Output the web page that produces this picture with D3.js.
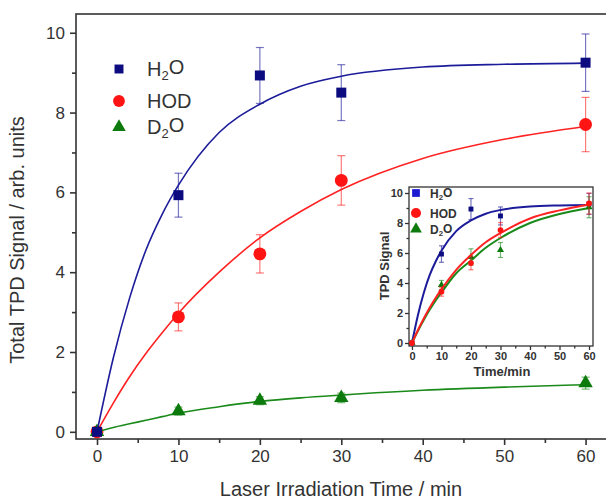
<!DOCTYPE html>
<html>
<head>
<meta charset="utf-8">
<script src="https://cdn.jsdelivr.net/npm/d3@7"></script>
<style>
  body { margin: 0; background: #fff; }
  svg { display: block; font-family: "Liberation Sans", Arial, sans-serif; }
</style>
</head>
<body>
<div id="chart"></div>
<script>
// ===============================
// DATA
// ===============================
const times = [0, 10, 20, 30, 60];

// main panel: measured points
const h2oMain = [0, 5.93, 8.93, 8.5, 9.25];
const h2oMainErr = [0, 0.55, 0.7, 0.7, 0.72];
const hodMain = [0, 2.88, 4.46, 6.3, 7.7];
const hodMainErr = [0, 0.35, 0.48, 0.62, 0.68];
const d2oMain = [0, 0.52, 0.78, 0.85, 1.22];
const d2oMainErr = [0, 0.1, 0.1, 0.12, 0.15];

// main panel: fitted curves
const fitTimes = [0, 2, 4, 6, 8, 10, 15, 20, 25, 30, 40, 50, 60];
const h2oFitMain = [0, 1.85, 3.35, 4.55, 5.45, 6.18, 7.5, 8.21, 8.66, 8.91, 9.14, 9.21, 9.24];
const hodFitMain = [0, 0.72, 1.38, 1.96, 2.48, 2.97, 4.0, 4.86, 5.52, 6.07, 6.85, 7.33, 7.65];
const d2oFitMain = [0, 0.11, 0.2, 0.29, 0.38, 0.47, 0.63, 0.76, 0.85, 0.92, 1.04, 1.12, 1.18];

// inset: measured points
const h2oInset = [0, 5.93, 8.93, 8.47, 9.27];
const h2oInsetErr = [0, 0.55, 0.7, 0.6, 0.7];
const hodInset = [0, 3.42, 5.33, 7.53, 9.3];
const hodInsetErr = [0, 0.3, 0.45, 0.5, 0.7];
const d2oInset = [0, 3.87, 5.73, 6.2, 9.05];
const d2oInsetErr = [0, 0.3, 0.55, 0.5, 0.7];

// inset: fitted curves
const h2oFitInset = [0, 1.84, 3.33, 4.52, 5.42, 6.15, 7.46, 8.17, 8.62, 8.87, 9.1, 9.17, 9.2];
const hodFitInset = [0, 0.85, 1.63, 2.35, 3.0, 3.58, 4.88, 5.87, 6.72, 7.33, 8.3, 8.84, 9.24];
const d2oFitInset = [0, 0.8, 1.53, 2.21, 2.82, 3.37, 4.65, 5.5, 6.35, 7.0, 8.0, 8.6, 9.0];

const xTicks = [0, 10, 20, 30, 40, 50, 60];
const yTicks = [0, 2, 4, 6, 8, 10];

const seriesNames = ["H2O", "HOD", "D2O"];
const seriesColors = { H2O: "#1c1c9a", HOD: "#ff2222", D2O: "#1a8a1a" };
const markerColors = { H2O: "#0c0c80", HOD: "#ff1414", D2O: "#0c7a0c" };

// ===============================
// SVG
// ===============================
const W = 606, H = 501;
const svg = d3.select("#chart").append("svg").attr("width", W).attr("height", H);

function buildSeries(points, errs, fit) {
  return {
    pts: times.map((t, i) => ({ t, v: points[i], e: errs[i] })),
    fit: fitTimes.map((t, i) => ({ t, v: fit[i] }))
  };
}

function drawPanel(g, cfg) {
  const x = d3.scaleLinear().domain(cfg.xDomain).range(cfg.xRange);
  const y = d3.scaleLinear().domain(cfg.yDomain).range(cfg.yRange);

  // frame
  g.append("rect")
    .attr("x", cfg.xRange[0]).attr("y", cfg.yRange[1])
    .attr("width", cfg.xRange[1] - cfg.xRange[0])
    .attr("height", cfg.yRange[0] - cfg.yRange[1])
    .attr("fill", "#fff")
    .attr("stroke", "#333")
    .attr("stroke-width", cfg.frameWidth);

  // x axis
  const minorX = d3.range(5, 61, 10);
  const xAxis = g.append("g").attr("transform", `translate(0,${cfg.yRange[0]})`);
  xAxis.call(d3.axisBottom(x).tickValues(xTicks).tickSize(cfg.tickMajor).tickPadding(cfg.pad))
    .call(a => a.select(".domain").remove());
  xAxis.append("g")
    .call(d3.axisBottom(x).tickValues(minorX).tickSize(cfg.tickMinor).tickFormat(""))
    .call(a => a.select(".domain").remove());

  // y axis
  const minorY = d3.range(1, 10, 2);
  const yAxis = g.append("g").attr("transform", `translate(${cfg.xRange[0]},0)`);
  yAxis.call(d3.axisLeft(y).tickValues(yTicks).tickSize(cfg.tickMajor).tickPadding(cfg.pad))
    .call(a => a.select(".domain").remove());
  yAxis.append("g")
    .call(d3.axisLeft(y).tickValues(minorY).tickSize(cfg.tickMinor).tickFormat(""))
    .call(a => a.select(".domain").remove());

  g.selectAll(".tick line").attr("stroke", "#333").attr("stroke-width", cfg.frameWidth);
  g.selectAll(".tick text")
    .attr("fill", "#333")
    .attr("font-size", cfg.tickFont)
    .attr("font-weight", cfg.bold ? "bold" : "normal")
    .attr("font-family", "Liberation Sans, Arial, sans-serif");

  // curves, error bars, markers
  const line = d3.line().x(d => x(d.t)).y(d => y(d.v)).curve(d3.curveMonotoneX);

  cfg.series.forEach(s => {
    const col = seriesColors[s.name];
    g.append("path")
      .datum(s.data.fit)
      .attr("fill", "none")
      .attr("stroke", col)
      .attr("stroke-width", cfg.lineWidth)
      .attr("d", line);

    const eb = g.append("g").attr("stroke", col).attr("stroke-opacity", 0.6).attr("stroke-width", 1.2);
    s.data.pts.filter(d => d.e > 0).forEach(d => {
      const cx = x(d.t);
      eb.append("line").attr("x1", cx).attr("x2", cx).attr("y1", y(d.v - d.e)).attr("y2", y(d.v + d.e));
      eb.append("line").attr("x1", cx - cfg.cap).attr("x2", cx + cfg.cap).attr("y1", y(d.v - d.e)).attr("y2", y(d.v - d.e));
      eb.append("line").attr("x1", cx - cfg.cap).attr("x2", cx + cfg.cap).attr("y1", y(d.v + d.e)).attr("y2", y(d.v + d.e));
    });

    g.append("g").selectAll("path")
      .data(s.data.pts)
      .join("path")
      .attr("transform", d => `translate(${x(d.t)},${y(d.v)})`)
      .attr("d", d3.symbol().type(s.symbol).size(cfg.symSize[s.name]))
      .attr("fill", markerColors[s.name]);
  });

  return { x, y };
}

const symbols = { H2O: d3.symbolSquare, HOD: d3.symbolCircle, D2O: d3.symbolTriangle };

// ===============================
// MAIN PANEL
// ===============================
const main = svg.append("g");
drawPanel(main, {
  xDomain: [-2.58, 63], xRange: [76, 610],
  yDomain: [-0.18, 10.47], yRange: [439, 14],
  frameWidth: 1.6, tickMajor: 6, tickMinor: 4, pad: 5, tickFont: "17px", bold: false,
  lineWidth: 1.6, cap: 4,
  symSize: { H2O: 100, HOD: 130, D2O: 90 },
  series: [
    { name: "HOD", symbol: symbols.HOD, data: buildSeries(hodMain, hodMainErr, hodFitMain) },
    { name: "D2O", symbol: symbols.D2O, data: buildSeries(d2oMain, d2oMainErr, d2oFitMain) },
    { name: "H2O", symbol: symbols.H2O, data: buildSeries(h2oMain, h2oMainErr, h2oFitMain) }
  ]
});

svg.append("text")
  .attr("transform", "translate(24,240) rotate(-90)")
  .attr("text-anchor", "middle")
  .attr("font-size", "20px")
  .attr("fill", "#333")
  .text("Total TPD Signal / arb. units");

svg.append("text")
  .attr("x", 341).attr("y", 496)
  .attr("text-anchor", "middle")
  .attr("font-size", "20px")
  .attr("fill", "#333")
  .text("Laser Irradiation Time / min");

// legend with subscripts
function legendLabel(g, name, x, y, size, weight) {
  const t = g.append("text").attr("x", x).attr("y", y)
    .attr("font-size", size).attr("font-weight", weight).attr("fill", "#333");
  if (name === "HOD") { t.text("HOD"); return; }
  t.append("tspan").text(name[0]);
  t.append("tspan").attr("dy", "0.3em").attr("font-size", "0.65em").text("2");
  t.append("tspan").attr("dy", "-0.3em").text("O");
}

const legendMain = svg.append("g");
const mainRows = [69, 101, 127];
seriesNames.forEach((n, i) => {
  legendMain.append("path")
    .attr("transform", `translate(119,${mainRows[i]})`)
    .attr("d", d3.symbol().type(symbols[n]).size(n === "HOD" ? 110 : 80))
    .attr("fill", markerColors[n]);
  legendLabel(legendMain, n, 147, mainRows[i] + 7, "20px", "normal");
});

// ===============================
// INSET
// ===============================
const inset = svg.append("g");
drawPanel(inset, {
  xDomain: [-1.0, 61.35], xRange: [409, 593],
  yDomain: [-0.2, 10.4], yRange: [346, 187],
  frameWidth: 1.3, tickMajor: 4, tickMinor: 2.5, pad: 2, tickFont: "11px", bold: true,
  lineWidth: 2, cap: 2.5,
  symSize: { H2O: 24, HOD: 26, D2O: 22 },
  series: [
    { name: "H2O", symbol: symbols.H2O, data: buildSeries(h2oInset, h2oInsetErr, h2oFitInset) },
    { name: "D2O", symbol: symbols.D2O, data: buildSeries(d2oInset, d2oInsetErr, d2oFitInset) },
    { name: "HOD", symbol: symbols.HOD, data: buildSeries(hodInset, hodInsetErr, hodFitInset) }
  ]
});

svg.append("text")
  .attr("transform", "translate(389,266) rotate(-90)")
  .attr("text-anchor", "middle")
  .attr("font-size", "13px")
  .attr("font-weight", "bold")
  .attr("fill", "#333")
  .text("TPD Signal");

svg.append("text")
  .attr("x", 502).attr("y", 376)
  .attr("text-anchor", "middle")
  .attr("font-size", "13px")
  .attr("font-weight", "bold")
  .attr("fill", "#333")
  .text("Time/min");

const legendInset = svg.append("g");
const insetRows = [193, 213, 229];
seriesNames.forEach((n, i) => {
  legendInset.append("path")
    .attr("transform", `translate(416,${insetRows[i]})`)
    .attr("d", d3.symbol().type(symbols[n]).size(n === "HOD" ? 80 : 60))
    .attr("fill", n === "H2O" ? "#1a1ad0" : markerColors[n]);
  legendLabel(legendInset, n, 430, insetRows[i] + 5, "12px", "bold");
});
</script>
</body>
</html>
